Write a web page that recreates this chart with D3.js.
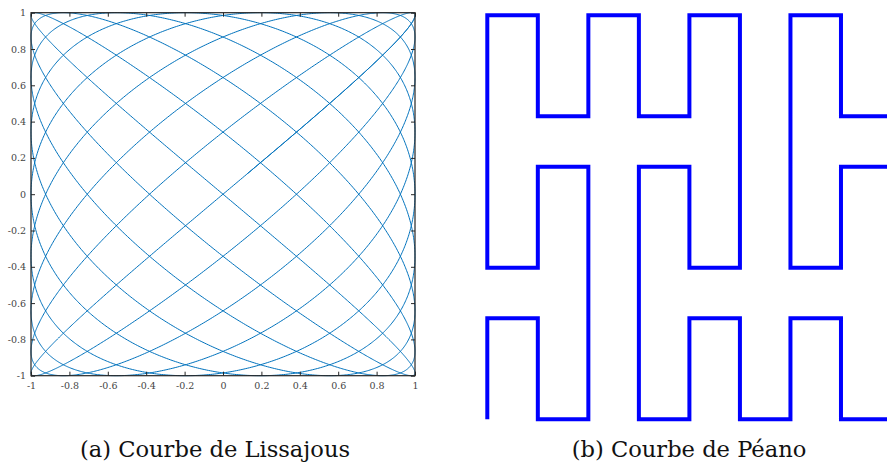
<!DOCTYPE html>
<html>
<head>
<meta charset="utf-8">
<script src="https://cdn.jsdelivr.net/npm/d3@7/dist/d3.min.js"></script>
<style>
  html, body { margin: 0; padding: 0; background: #fff; }
  svg { display: block; }
</style>
</head>
<body>
<svg id="fig" width="887" height="464"></svg>
<script>
// Lissajous figure: x = cos(fx*t + px), y = cos(fy*t + py)
const lissajousFreq = [9, 8];                  // angular frequencies [x, y]
const lissajousPhase = [0, Math.PI / 18];      // phases [x, y]
const lissajousSpan = [0, 2 * Math.PI + 0.16]; // parameter range (slight overlap at the start)
const lissajousSamples = 6000;

const axisTicks = [-1, -0.8, -0.6, -0.4, -0.2, 0, 0.2, 0.4, 0.6, 0.8, 1];
const axisTickLabels = ["-1", "-0.8", "-0.6", "-0.4", "-0.2", "0", "0.2", "0.4", "0.6", "0.8", "1"];

// Peano curve vertices on an integer grid (column, row), row 0 at the top
const peanoCols = [0, 0, 1, 1, 2, 2, 1, 1, 0, 0, 1, 1, 2, 2, 3, 3, 4, 4, 5, 5, 4, 4, 3, 3, 4, 4, 5, 5, 6, 6, 7, 7, 8, 8, 7, 7, 6, 6, 7, 7, 8, 8];
const peanoRows = [8, 6, 6, 8, 8, 3, 3, 5, 5, 0, 0, 2, 2, 0, 0, 2, 2, 0, 0, 5, 5, 3, 3, 8, 8, 6, 6, 8, 8, 6, 6, 8, 8, 3, 3, 5, 5, 0, 0, 2, 2, 0];

const captions = ["(a) Courbe de Lissajous", "(b) Courbe de Péano"];

const SERIF = "'DejaVu Serif', 'Liberation Serif', serif";

const svg = d3.select("#fig");

// ---------- (a) Lissajous ----------
const x = d3.scaleLinear().domain([-1, 1]).range([31, 415]);
const y = d3.scaleLinear().domain([-1, 1]).range([375.7, 12.7]);

const ts = d3.range(lissajousSamples + 1).map(i =>
  lissajousSpan[0] + (lissajousSpan[1] - lissajousSpan[0]) * i / lissajousSamples);
const lissPts = ts.map(t => [
  Math.cos(lissajousFreq[0] * t + lissajousPhase[0]),
  Math.cos(lissajousFreq[1] * t + lissajousPhase[1])
]);

const gA = svg.append("g");

gA.append("path")
  .datum(lissPts)
  .attr("fill", "none")
  .attr("stroke", "#0072BD")
  .attr("stroke-width", 1)
  .attr("d", d3.line().x(d => x(d[0])).y(d => y(d[1])));

const fmt = d => axisTickLabels[axisTicks.indexOf(d)];
const styleAxis = g => {
  g.select(".domain").remove();
  g.attr("font-family", SERIF).attr("font-size", 9.5);
  g.selectAll(".tick line").attr("stroke", "#262626").attr("stroke-width", 1);
  g.selectAll(".tick text").attr("fill", "#444");
};

gA.append("g").attr("transform", `translate(0,${y(-1)})`)
  .call(d3.axisBottom(x).tickValues(axisTicks).tickFormat(fmt).tickSize(-4).tickPadding(7))
  .call(styleAxis);
gA.append("g").attr("transform", `translate(0,${y(1)})`)
  .call(d3.axisTop(x).tickValues(axisTicks).tickFormat("").tickSize(-4))
  .call(styleAxis);
gA.append("g").attr("transform", `translate(${x(-1)},0)`)
  .call(d3.axisLeft(y).tickValues(axisTicks).tickFormat(fmt).tickSize(-4).tickPadding(5))
  .call(styleAxis);
gA.append("g").attr("transform", `translate(${x(1)},0)`)
  .call(d3.axisRight(y).tickValues(axisTicks).tickFormat("").tickSize(-4))
  .call(styleAxis);

gA.append("rect")
  .attr("x", x(-1)).attr("y", y(1))
  .attr("width", x(1) - x(-1)).attr("height", y(-1) - y(1))
  .attr("fill", "none").attr("stroke", "#262626").attr("stroke-width", 1.2);

// ---------- (b) Peano ----------
const px = d3.scaleLinear().domain([0, 8]).range([487.3, 891.5]);
const py = d3.scaleLinear().domain([0, 8]).range([15.3, 419.3]);
const peanoPts = peanoCols.map((c, i) => [c, peanoRows[i]]);

svg.append("path")
  .datum(peanoPts)
  .attr("fill", "none")
  .attr("stroke", "#0000ff")
  .attr("stroke-width", 4)
  .attr("stroke-linejoin", "miter")
  .attr("stroke-linecap", "butt")
  .attr("d", d3.line().x(d => px(d[0])).y(d => py(d[1])));

// ---------- captions ----------
[215, 689].forEach((cx, i) => {
  svg.append("text")
    .attr("x", cx).attr("y", 457)
    .attr("text-anchor", "middle")
    .attr("font-family", SERIF)
    .attr("font-size", 22.6)
    .attr("fill", "#111")
    .text(captions[i]);
});
</script>
</body>
</html>
